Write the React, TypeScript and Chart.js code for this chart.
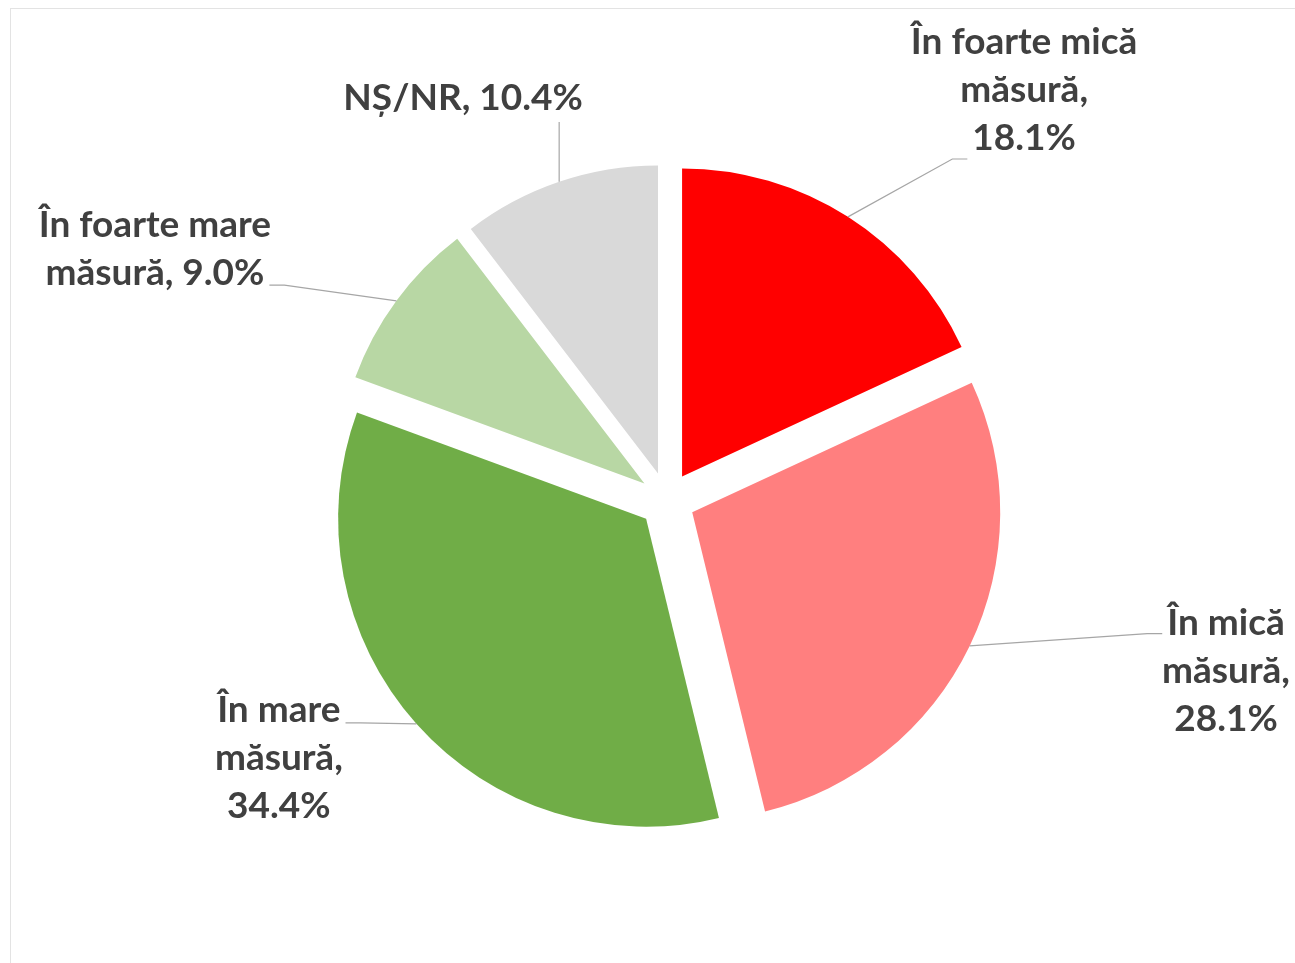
import React, { useEffect, useRef } from "react";
import { Chart, registerables } from "chart.js";

Chart.register(...registerables);

// ---- data ----
const categories = [
  "În foarte mică măsură",
  "În mică măsură",
  "În mare măsură",
  "În foarte mare măsură",
  "NȘ/NR",
];
const values = [18.1, 28.1, 34.4, 9.0, 10.4];
const sliceColors = ["#FF0000", "#FF7F7F", "#70AD47", "#B8D7A4", "#D9D9D9"];

// words per line for each data label
const labelBreaks = [[3, 1, 1], [2, 1, 1], [2, 1, 1], [3, 2], [2]];

// label placement (polar from pie centre: clockwise degrees from 12 o'clock, distance px)
const labelAngles = [41.9, 108.1, 235.2, 295.0, 332.4];
const labelDists = [534.7, 588.1, 472.7, 565.0, 440.1];
const labelSides = ["left", "left", "right", "right", "bottom"];
const labelRows = [2, 0, 0, 1, 0];
const labelRowDy = [9, -1, 1, 0, 0];

// ---- style ----
const W = 1295;
const H = 963;
const EXPLODE = 28;
const FONT = "bold 37px Lato, 'Open Sans', sans-serif";
const LINE_H = 48;
const TEXT_COLOR = "#404040";
const LEADER_COLOR = "#A6A6A6";

function wrapLabel(i: number): string[] {
  const text = `${categories[i]}, ${values[i].toFixed(1)}%`;
  const words = text.split(" ");
  const out: string[] = [];
  let k = 0;
  for (const n of labelBreaks[i]) {
    out.push(words.slice(k, k + n).join(" "));
    k += n;
  }
  return out;
}

const explodePlugin = {
  id: "explodeSlices",
  afterDatasetUpdate(chart: any, args: any) {
    const meta = chart.getDatasetMeta(args.index);
    meta.data.forEach((arc: any) => {
      const mid = (arc.startAngle + arc.endAngle) / 2;
      arc.x += Math.cos(mid) * EXPLODE;
      arc.y += Math.sin(mid) * EXPLODE;
    });
  },
};

const labelPlugin = {
  id: "pieLabels",
  afterDatasetsDraw(chart: any) {
    const ctx = chart.ctx as CanvasRenderingContext2D;
    const area = chart.chartArea;
    const cx = (area.left + area.right) / 2;
    const cy = (area.top + area.bottom) / 2;
    const meta = chart.getDatasetMeta(0);
    ctx.save();
    ctx.font = FONT;
    meta.data.forEach((arc: any, i: number) => {
      const mid = (arc.startAngle + arc.endAngle) / 2;
      const ax = arc.x + Math.cos(mid) * arc.outerRadius;
      const ay = arc.y + Math.sin(mid) * arc.outerRadius;
      const th = (labelAngles[i] * Math.PI) / 180;
      const lx = cx + Math.sin(th) * labelDists[i];
      const ly = cy - Math.cos(th) * labelDists[i];
      const lines = wrapLabel(i);
      const n = lines.length;
      const baselines = lines.map((_, k) => ly + (k - (n - 1) / 2) * LINE_H);

      const pts: { x: number; y: number }[] = [{ x: ax, y: ay }];
      const side = labelSides[i];
      if (side === "bottom") {
        pts.push({ x: ax, y: baselines[n - 1] + 12 });
      } else {
        const row = labelRows[i];
        const w = ctx.measureText(lines[row]).width;
        const gap = 5;
        const ex = side === "left" ? lx - w / 2 - gap : lx + w / 2 + gap;
        const ey = baselines[row] + labelRowDy[i];
        const bx = side === "left" ? ex - 15 : ex + 15;
        pts.push({ x: bx, y: ey });
        pts.push({ x: ex, y: ey });
      }
      ctx.strokeStyle = LEADER_COLOR;
      ctx.lineWidth = 1.2;
      ctx.beginPath();
      pts.forEach((p, k) => (k === 0 ? ctx.moveTo(p.x, p.y) : ctx.lineTo(p.x, p.y)));
      ctx.stroke();

      ctx.fillStyle = TEXT_COLOR;
      ctx.textAlign = "center";
      ctx.textBaseline = "alphabetic";
      lines.forEach((t, k) => ctx.fillText(t, lx, baselines[k]));
    });
    ctx.restore();
  },
};

export default function App() {
  const ref = useRef<HTMLCanvasElement | null>(null);

  useEffect(() => {
    if (!ref.current) return;
    const chart = new Chart(ref.current, {
      type: "pie",
      data: {
        labels: categories,
        datasets: [
          {
            data: values,
            backgroundColor: sliceColors,
            borderWidth: 0,
          },
        ],
      },
      options: {
        responsive: false,
        animation: false,
        layout: { padding: { left: 359, top: 191, right: 320, bottom: 154 } },
        plugins: {
          legend: { display: false },
          tooltip: { enabled: false },
        },
      },
      plugins: [explodePlugin, labelPlugin],
    });
    return () => chart.destroy();
  }, []);

  return (
    <div
      style={{
        position: "fixed",
        left: 0,
        top: 0,
        width: W,
        height: H,
        overflow: "hidden",
        background: "#ffffff",
      }}
    >
      <div
        style={{
          position: "absolute",
          left: 10,
          top: 8,
          width: 1400,
          height: 1100,
          border: "1px solid #E3E3E3",
        }}
      />
      <canvas
        ref={ref}
        width={W}
        height={H}
        style={{ position: "absolute", left: 0, top: 0, width: W, height: H }}
      />
    </div>
  );
}
